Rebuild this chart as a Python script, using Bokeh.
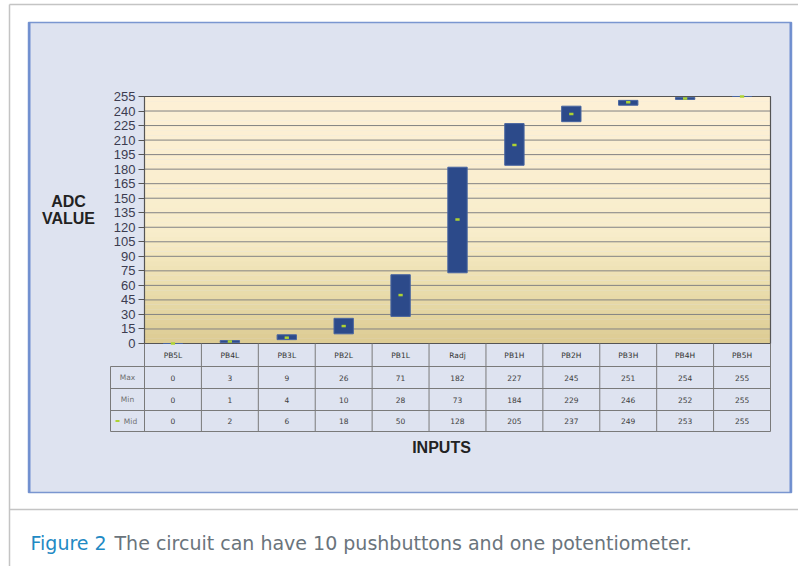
from bokeh.plotting import figure
from bokeh.models import (Range1d, FixedTicker, LinearAxis, Label, LabelSet,
                          ColumnDataSource)
from bokeh.core.properties import value
from bokeh.embed import file_html
from bokeh.resources import INLINE

# ---------------- data ----------------
categories = ["PB5L", "PB4L", "PB3L", "PB2L", "PB1L", "Radj",
              "PB1H", "PB2H", "PB3H", "PB4H", "PB5H"]
max_vals = [0, 3, 9, 26, 71, 182, 227, 245, 251, 254, 255]
min_vals = [0, 1, 4, 10, 28, 73, 184, 229, 246, 252, 255]
mid_vals = [0, 2, 6, 18, 50, 128, 205, 237, 249, 253, 255]
y_ticks = list(range(0, 256, 15))
row_labels = ["Max", "Min", "Mid"]
y_title = ["ADC", "VALUE"]
x_title = "INPUTS"
caption_lead = "Figure 2"
caption_text = "The circuit can have 10 pushbuttons and one potentiometer."

# ---------------- layout constants (pixels, top-left origin) ----------------
W, H = 798, 566
FL, FR, FT, FB = 144, 770, 96, 343          # plot area
PANEL_L, PANEL_R, PANEL_T, PANEL_B = 28, 791, 22, 492
ROW_Y = [343, 366, 388, 410, 431]           # table row borders
LABEL_COL_L = 110
FONT = "Liberation Sans"
YMAX = 255
n = len(categories)

# pixel-space main ranges (y flipped so that y grows downwards)
cw = (FR - FL) / n
ky = (FB - FT) / YMAX
p = figure(width=W, height=H,
           x_range=Range1d(0, W), y_range=Range1d(H, 0),
           x_axis_location=None, y_axis_location=None,
           output_backend="svg", toolbar_location=None,
           min_border=0, min_border_left=0, min_border_right=0,
           min_border_top=0, min_border_bottom=0)
p.outline_line_color = None
p.background_fill_color = "white"
p.border_fill_color = "white"
p.xgrid.visible = False
p.ygrid.visible = False
p.extra_x_ranges = {"idx": Range1d(-FL / cw, (W - FL) / cw)}
p.extra_y_ranges = {"adc": Range1d(-(H - FB) / ky, YMAX + FT / ky)}
R = dict(x_range_name="idx", y_range_name="adc")

# ---------------- page / panel ----------------
p.quad(left=PANEL_L, right=PANEL_R, top=PANEL_T, bottom=PANEL_B,
       fill_color="#dee3f0", line_color="#7a96d0", line_width=1.5)
p.quad(left=PANEL_L, right=PANEL_L + 2, top=PANEL_T, bottom=PANEL_B,
       fill_color="#6f8ecf", line_color=None)
p.quad(left=PANEL_R - 2, right=PANEL_R, top=PANEL_T, bottom=PANEL_B,
       fill_color="#6f8ecf", line_color=None)
p.segment(x0=[9, 9, 9], y0=[4, 4, 509], x1=[9, W, W], y1=[H, 4, 509],
          line_color="#c4c4c4", line_width=1.5)

# ---------------- plot area ----------------
stops = [(0, (0xdc, 0xcb, 0x93)), (60, (0xeb, 0xde, 0xae)),
         (115, (0xf8, 0xed, 0xcb)), (255, (0xfd, 0xf0, 0xd6))]


def col_at(v):
    for (a, ca), (b, cb) in zip(stops[:-1], stops[1:]):
        if a <= v <= b:
            t = (v - a) / (b - a)
            return "#%02x%02x%02x" % tuple(int(round(ca[i] + (cb[i] - ca[i]) * t)) for i in range(3))
    return "#fdf0d6"


nb = 51
step = YMAX / nb
band_y = [step * (i + 0.5) for i in range(nb)]
p.hbar(y=band_y, height=step * 1.03, left=0, right=n,
       fill_color=[col_at(v) for v in band_y], line_color=None, **R)

# horizontal grid lines at the tick values
p.segment(x0=[0] * len(y_ticks), x1=[n] * len(y_ticks), y0=y_ticks, y1=y_ticks,
          line_color="#828282", line_width=1, **R)
# plot outline
p.quad(left=0, right=n, bottom=0, top=YMAX, fill_color=None,
       line_color="#555555", line_width=1.2, **R)

# bars and mid markers
xpos = [i + 0.5 for i in range(n)]
src = ColumnDataSource(dict(x=xpos, cat=categories, mx=max_vals, mn=min_vals, mid=mid_vals,
                            mx_s=[str(v) for v in max_vals],
                            mn_s=[str(v) for v in min_vals],
                            mid_s=[str(v) for v in mid_vals]))
p.vbar(x="x", bottom="mn", top="mx", width=0.34, source=src,
       fill_color="#2c4a8a", line_color="#4865a0", line_width=1, **R)
p.rect(x="x", y="mid", width=0.075, height=2.5, height_units="screen", source=src,
       fill_color="#aed332", line_color=None, **R)

# y axis
yax = LinearAxis(y_range_name="adc", ticker=FixedTicker(ticks=y_ticks),
                 fixed_location=FL, bounds=(0, YMAX))
yax.axis_line_color = "#555555"
yax.major_tick_line_color = "#555555"
yax.major_tick_out = 6
yax.major_tick_in = 0
yax.minor_tick_line_color = None
yax.major_label_text_font = FONT
yax.major_label_text_font_size = "13px"
yax.major_label_text_color = "#3c3c50"
yax.major_label_standoff = 3
p.add_layout(yax, "left")

# ---------------- table ----------------
xs_v = [FL + k * cw for k in range(n + 1)]
p.segment(x0=xs_v, x1=xs_v, y0=[FB] * (n + 1), y1=[ROW_Y[-1]] * (n + 1),
          line_color="#7a7a7a", line_width=1)
p.segment(x0=[LABEL_COL_L] * 4 + [LABEL_COL_L], x1=[FR] * 4 + [LABEL_COL_L],
          y0=ROW_Y[1:] + [ROW_Y[1]], y1=ROW_Y[1:] + [ROW_Y[-1]],
          line_color="#7a7a7a", line_width=1)


def row_text(field, y_top, y_bot, color="#404040"):
    p.add_layout(LabelSet(x="x", y=(y_top + y_bot) / 2, x_range_name="idx",
                          text=field, source=src, text_align="center",
                          text_baseline="middle", text_font_size="7.5px",
                          text_color=color, text_font=value("DejaVu Sans")))


row_text("cat", ROW_Y[0], ROW_Y[1], color="#333333")
row_text("mx_s", ROW_Y[1], ROW_Y[2])
row_text("mn_s", ROW_Y[2], ROW_Y[3])
row_text("mid_s", ROW_Y[3], ROW_Y[4])

for i, lab in enumerate(row_labels):
    yc = (ROW_Y[i + 1] + ROW_Y[i + 2]) / 2
    p.add_layout(Label(x=(LABEL_COL_L + FL) / 2 + (3 if i == 2 else 0), y=yc,
                       text=lab, text_align="center", text_baseline="middle",
                       text_font_size="7.5px", text_color="#707070",
                       text_font="DejaVu Sans"))
# legend key of the Mid row
p.quad(left=115, right=119, top=419.5, bottom=421.5, fill_color="#aed332", line_color=None)

# ---------------- titles ----------------
for i, t in enumerate(y_title):
    p.add_layout(Label(x=68, y=201 + 17 * i, text=t, text_align="center",
                       text_baseline="middle", text_font=FONT,
                       text_font_style="bold", text_font_size="16px",
                       text_color="#222222"))
p.add_layout(Label(x=441, y=447, text=x_title, text_align="center",
                   text_baseline="middle", text_font=FONT, text_font_style="bold",
                   text_font_size="16px", text_color="#222222"))

# caption
p.add_layout(Label(x=30, y=542, text=caption_lead, text_baseline="middle",
                   text_font="DejaVu Sans", text_font_size="19px", text_color="#1f8ac4"))
p.add_layout(Label(x=114, y=542, text=caption_text, text_baseline="middle",
                   text_font="DejaVu Sans", text_font_size="19px", text_color="#6a747c"))

open("out.html", "w").write(file_html(p, INLINE))
